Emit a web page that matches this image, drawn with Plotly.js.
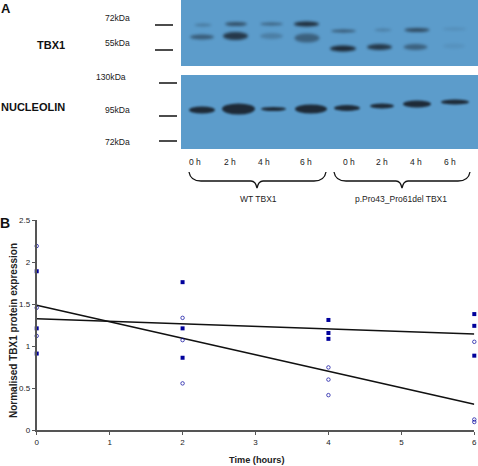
<!DOCTYPE html>
<html><head><meta charset="utf-8">
<script src="https://cdn.plot.ly/plotly-3.0.1.min.js"></script>
<style>html,body{margin:0;padding:0;background:#fff}#c{width:478px;height:466px}</style>
</head><body><div id="c"></div>
<script>
// Panel B data
const timesSquare=[0,0,0,2,2,2,4,4,4,6,6,6];
const valuesSquare=[1.89,1.21,0.91,1.76,1.21,0.86,1.31,1.155,1.085,1.38,1.24,0.885];
const timesCircle=[0,0,0,2,2,2,4,4,4,6,6,6];
const valuesCircle=[2.19,1.455,1.12,1.335,1.07,0.555,0.745,0.6,0.415,1.05,0.125,0.095];
const trendX=[0,6];
const trendSquare=[1.325,1.143];
const trendCircle=[1.484,0.306];
const xTicks=[0,1,2,3,4,5,6];
const yTicks=[0,0.5,1,1.5,2,2.5];
const yTickLabels=['0','0.5','1','1.5','2','2.5'];
// Panel A: band centre x, centre y, width, height, darkness
const bandX=[203,202,236,235.5,271.5,271.5,306.5,307,343.5,343,383,379.5,417,415.5,454.5,454];
const bandY=[25,37,24,36,24,36,24,38,31,48.5,30,47,30,47,29,46];
const bandW=[17,24,22,25,23,23,25,25,25,26,17,25,25,24,24,22];
const bandH=[3,5,4,8,3,6,5,9,3,6,3,6,4,6,3,5];
const bandA=[.3,.55,.65,.85,.5,.25,.95,.5,.6,.98,.25,.85,.7,.5,.12,.08];
const nucX=[202,238.5,273.5,311,347,382,417,455];
const nucY=[110,109,109,109,108,106,104,102];
const nucW=[26,33,25,32,26,24,28,28];
const nucH=[7,11,4,9,6,5,7,5];
const laneLabels=['0 h','2 h','4 h','6 h','0 h','2 h','4 h','6 h'];
const laneX=[195,230,264,306,349,382,416,450];

const blue='#00009c', blot='#5c9ccb', ink='#1c2733';
const shapes=[];
const P=(o)=>Object.assign({xref:'x2',yref:'y2',layer:'above'},o);
shapes.push(P({type:'rect',x0:181,x1:478,y0:0,y1:66,fillcolor:blot,line:{width:0}}));
shapes.push(P({type:'rect',x0:181,x1:478,y0:75,y1:149,fillcolor:blot,line:{width:0}}));
const tbxCount=bandX.length, bandShapeCount=bandX.length+nucX.length;
bandX.forEach((x,i)=>shapes.push(P({type:'circle',x0:x-bandW[i]/2,x1:x+bandW[i]/2,y0:bandY[i]-bandH[i]/2,y1:bandY[i]+bandH[i]/2,fillcolor:ink,opacity:bandA[i],line:{width:0}})));
nucX.forEach((x,i)=>shapes.push(P({type:'circle',x0:x-nucW[i]/2,x1:x+nucW[i]/2,y0:nucY[i]-nucH[i]/2,y1:nucY[i]+nucH[i]/2,fillcolor:ink,opacity:.97,line:{width:0}})));
[[155,173,25],[155,173,50],[159,177,83],[159,177,116],[159,177,141]].forEach(t=>shapes.push(P({type:'line',x0:t[0],x1:t[1],y0:t[2],y1:t[2],line:{color:'#111',width:1.5}})));
const brace=(a,m,b)=>`M${a},172 C${a+1},178 ${a+5},181 ${a+12},181 L${m-6},181 C${m-3},181 ${m-1},183 ${m},188 C${m+1},183 ${m+3},181 ${m+6},181 L${b-12},181 C${b-5},181 ${b-1},178 ${b},172`;
shapes.push(P({type:'path',path:brace(189,257,326),line:{color:'#111',width:1.3}}));
shapes.push(P({type:'path',path:brace(334,402,470),line:{color:'#111',width:1.3}}));

const ann=[];
const T=(text,x,y,size,o={})=>ann.push(Object.assign({xref:'x2',yref:'y2',x,y,text,showarrow:false,xanchor:'center',yanchor:'middle',font:{family:'Liberation Sans, Arial, sans-serif',size,color:'#222'}},o));
const bold=(s)=>'<b>'+s+'</b>';
T(bold('A'),6,8,13,{font:{family:'Liberation Sans',size:13,color:'#111'}});
T(bold('B'),5,223,14,{font:{family:'Liberation Sans',size:14,color:'#111'}});
T(bold('TBX1'),51,45,11,{font:{family:'Liberation Sans',size:11,color:'#111'}});
T(bold('NUCLEOLIN'),33,107,11,{font:{family:'Liberation Sans',size:11,color:'#111'}});
[['72kDa',117,18],['55kDa',117,43],['130kDa',111,77],['95kDa',117,110],['72kDa',117,142]].forEach(t=>T(t[0],t[1],t[2],8.6));
laneLabels.forEach((s,i)=>T(s,laneX[i],162,8.5));
T('WT TBX1',258,199,8.5);
T('p.Pro43_Pro61del TBX1',401,199,8.5);
T(bold('Normalised TBX1 protein expression'),13,331,10,{textangle:-90});
T(bold('Time (hours)'),256.5,460,9.2);

const mk=(x,y,sym)=>({type:'scatter',mode:'markers',x,y,cliponaxis:false,marker:{symbol:sym,size:sym==='square'?4:3.5,color:blue,line:{color:blue,width:sym==='square'?0:0.7}}});
const ln=(y)=>({type:'scatter',mode:'lines',x:trendX,y,cliponaxis:false,line:{color:'#111',width:1.6}});
const data=[ln(trendSquare),ln(trendCircle),mk(timesSquare,valuesSquare,'square'),mk(timesCircle,valuesCircle,'circle-open'),
 {type:'scatter',x:[0],y:[0],xaxis:'x2',yaxis:'y2',mode:'markers',marker:{opacity:0},hoverinfo:'skip'}];
const layout={width:478,height:466,margin:{l:0,r:0,t:0,b:0},paper_bgcolor:'#fff',plot_bgcolor:'rgba(0,0,0,0)',showlegend:false,
 font:{family:'Liberation Sans, Arial, sans-serif',size:8,color:'#222'},
 xaxis:{domain:[36.7/478,474.3/478],range:[0,6],tickvals:xTicks,ticks:'outside',ticklen:3,tickcolor:'#555',showgrid:false,zeroline:false,showline:true,linecolor:'#555',linewidth:2,tickfont:{size:8}},
 yaxis:{domain:[36/466,246/466],range:[0,2.5],tickvals:yTicks,ticktext:yTickLabels,ticks:'outside',ticklen:3,tickcolor:'#555',showgrid:false,zeroline:false,showline:true,linecolor:'#555',linewidth:2,tickfont:{size:8}},
 xaxis2:{domain:[0,1],range:[0,478],visible:false,fixedrange:true,anchor:'y2'},
 yaxis2:{domain:[0,1],range:[466,0],visible:false,fixedrange:true,anchor:'x2'},
 shapes,annotations:ann};
Plotly.newPlot('c',data,layout,{displayModeBar:false,staticPlot:true}).then(()=>{
  const paths=document.querySelectorAll('.shapelayer path');
  paths.forEach((p,i)=>{
    if(i>=2&&i<2+tbxCount) p.style.filter='blur(1.5px)';
    else if(i>=2&&i<2+bandShapeCount) p.style.filter='blur(1px)';
  });
});
</script></body></html>
